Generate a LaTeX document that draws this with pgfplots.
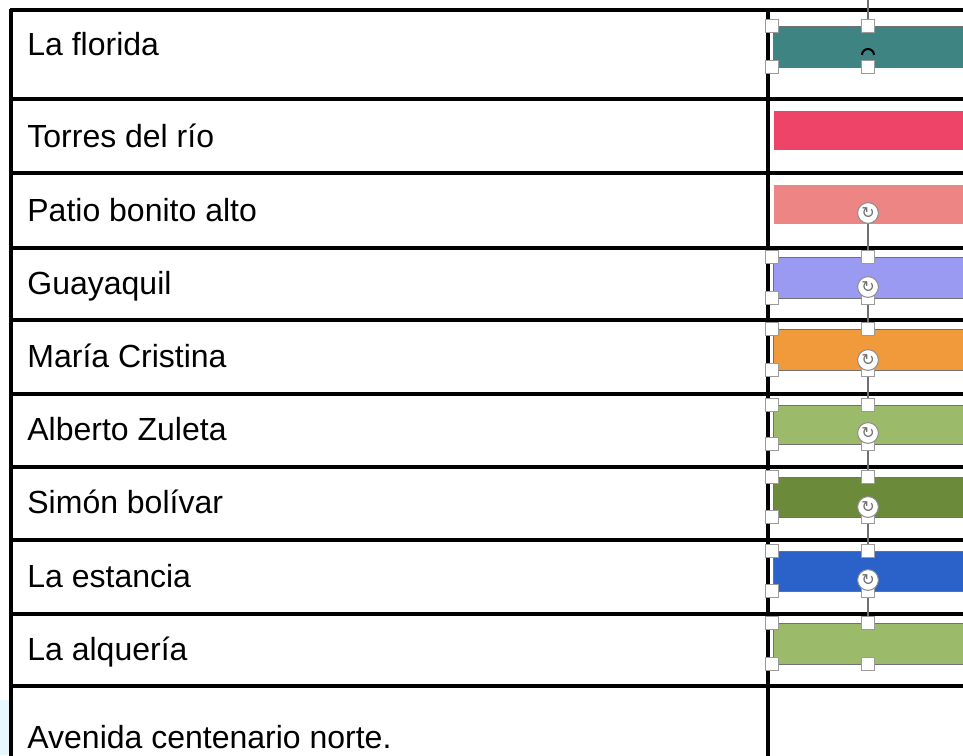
\documentclass[border=0pt]{standalone}
\usepackage{fontspec}
\setmainfont{Liberation Sans}
\newfontfamily\symfont{DejaVu Sans}
\usepackage{pgfplots}
\pgfplotsset{compat=1.18}
\definecolor{cteal}{HTML}{3E8483}
\definecolor{ccrim}{HTML}{EE4468}
\definecolor{csalm}{HTML}{EE8585}
\definecolor{cperi}{HTML}{9A9AF2}
\definecolor{corng}{HTML}{F09A3B}
\definecolor{clgrn}{HTML}{9BBB6A}
\definecolor{cdgrn}{HTML}{6B8A3A}
\definecolor{cblue}{HTML}{2A62C9}
\definecolor{chand}{HTML}{707070}
\pgfdeclareplotmark{smallarc}{%
  \pgfpathmoveto{\pgfqpoint{-3pt}{-1.5pt}}%
  \pgfpatharc{180}{0}{3pt}%
  \pgfusepathqstroke}
\begin{document}
\begin{tikzpicture}
\useasboundingbox (0,0) rectangle (481.5pt,377.5pt);
\begin{axis}[at={(0,0)}, anchor=south west, scale only axis,
  width=481.5pt, height=377.5pt, xmin=0, xmax=963, ymin=0, ymax=755,
  y dir=reverse, hide axis, clip=true]
% faint artifact bottom-left
\addplot[fill=cyan!10, draw=none, forget plot] coordinates {(0,700) (9,700) (9,755) (0,755)} --cycle;
% bars: unselected
\addplot[fill=ccrim, draw=none, forget plot] coordinates {(774,111) (975,111) (975,150) (774,150)} --cycle;
\addplot[fill=csalm, draw=none, forget plot] coordinates {(774,185) (975,185) (975,224) (774,224)} --cycle;
% bars: selected (thin outline)
\addplot[fill=cteal, draw=chand, forget plot] coordinates {(773,26) (975,26) (975,67) (773,67)} --cycle;
\addplot[fill=cperi, draw=chand, forget plot] coordinates {(773,257) (975,257) (975,298) (773,298)} --cycle;
\addplot[fill=corng, draw=chand, forget plot] coordinates {(773,329) (975,329) (975,370) (773,370)} --cycle;
\addplot[fill=clgrn, draw=chand, forget plot] coordinates {(773,405) (975,405) (975,444) (773,444)} --cycle;
\addplot[fill=cdgrn, draw=chand, forget plot] coordinates {(773,477) (975,477) (975,517) (773,517)} --cycle;
\addplot[fill=cblue, draw=chand, forget plot] coordinates {(773,551) (975,551) (975,591) (773,591)} --cycle;
\addplot[fill=clgrn, draw=chand, forget plot] coordinates {(773,623) (975,623) (975,664) (773,664)} --cycle;
% table rules
\pgfplotsinvokeforeach{10,99,173,248,320,394,467,540,614,686}{
  \addplot[black, line width=1.6pt, forget plot] coordinates {(10,#1) (975,#1)};
}
\addplot[black, line width=1.6pt, forget plot] coordinates {(11,9) (11,760)};
\addplot[black, line width=1.8pt, forget plot] coordinates {(768,9) (768,760)};
% rotation connectors
\addplot[chand, line width=0.6pt, forget plot] coordinates {(868,0) (868,26)};
\pgfplotsinvokeforeach{213/257,287/329,360/405,433/477,507/551,580/623}{
  \pgfplotsforeachungrouped \a/\b in {#1}{
    \edef\tmp{\noexpand\addplot[chand, line width=0.6pt, forget plot] coordinates {(868,\a) (868,\b)};}\tmp
  }
}
% selection handles
\addplot[only marks, mark=square*, mark size=3.4pt, mark options={fill=white, draw=chand!70, line width=0.5pt}, forget plot] coordinates {
 (772,26) (868,26) (966,26) (772,67) (868,67) (966,67)
 (772,257) (868,257) (966,257) (772,298) (868,298) (966,298)
 (772,329) (868,329) (966,329) (772,370) (868,370) (966,370)
 (772,405) (868,405) (966,405) (772,444) (868,444) (966,444)
 (772,477) (868,477) (966,477) (772,517) (868,517) (966,517)
 (772,551) (868,551) (966,551) (772,591) (868,591) (966,591)
 (772,623) (868,623) (966,623) (772,664) (868,664) (966,664)
};
% rotation icons
\addplot[only marks, mark=*, mark size=5.2pt, mark options={fill=white, draw=chand!80, line width=0.5pt},
  nodes near coords={\textcolor{chand}{\symfont\fontsize{8}{8}\selectfont ↻}},
  every node near coord/.append style={anchor=center, inner sep=0pt}, forget plot] coordinates {
 (868,213) (868,287) (868,360) (868,433) (868,507) (868,580)
};
\addplot[only marks, mark=smallarc, mark options={draw=black, line width=1pt}, forget plot] coordinates {(868,52)};
% labels
\node[anchor=base west, inner sep=0pt, font=\fontsize{16}{19}\selectfont] at (axis cs:27,55) {La florida};
\node[anchor=base west, inner sep=0pt, font=\fontsize{16}{19}\selectfont] at (axis cs:27,147) {Torres del río};
\node[anchor=base west, inner sep=0pt, font=\fontsize{16}{19}\selectfont] at (axis cs:27,221) {Patio bonito alto};
\node[anchor=base west, inner sep=0pt, font=\fontsize{16}{19}\selectfont] at (axis cs:27,294) {Guayaquil};
\node[anchor=base west, inner sep=0pt, font=\fontsize{16}{19}\selectfont] at (axis cs:27,367) {María Cristina};
\node[anchor=base west, inner sep=0pt, font=\fontsize{16}{19}\selectfont] at (axis cs:27,440) {Alberto Zuleta};
\node[anchor=base west, inner sep=0pt, font=\fontsize{16}{19}\selectfont] at (axis cs:27,513) {Simón bolívar};
\node[anchor=base west, inner sep=0pt, font=\fontsize{16}{19}\selectfont] at (axis cs:27,587) {La estancia};
\node[anchor=base west, inner sep=0pt, font=\fontsize{16}{19}\selectfont] at (axis cs:27,660) {La alquería};
\node[anchor=base west, inner sep=0pt, font=\fontsize{16}{19}\selectfont] at (axis cs:27,748) {Avenida centenario norte.};
\end{axis}
\end{tikzpicture}
\end{document}
